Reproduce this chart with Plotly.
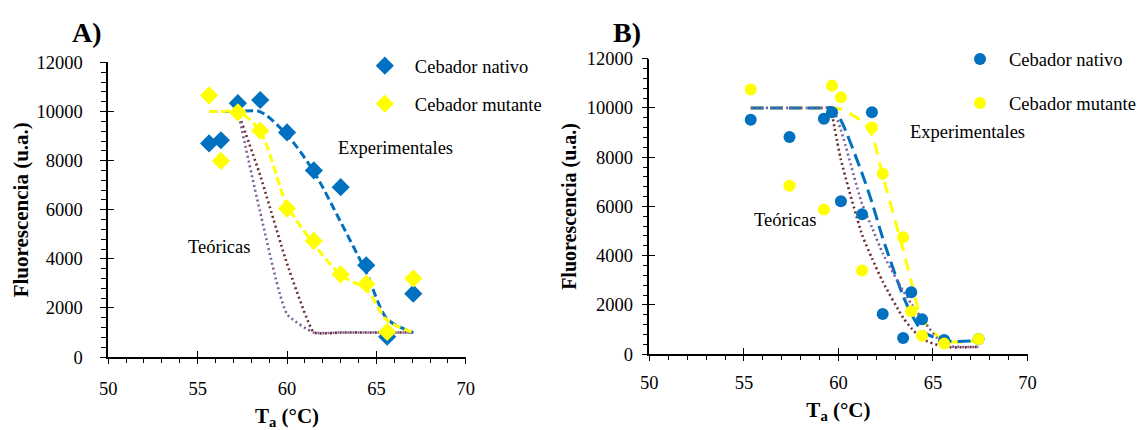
import plotly.graph_objects as go

# ---------------- Panel A data ----------------
a_x = [55.64, 56.3, 57.25, 58.5, 60.0, 61.5, 63.0, 64.43, 65.6, 67.06]
a_nativo = [8700, 8830, 10340, 10470, 9150, 7600, 6920, 3740, 830, 2580]
a_mutante = [10660, 7990, 9970, 9220, 6050, 4730, 3370, 2980, 1020, 3200]
a_fit_x = [55.64, 56.3, 57.25, 58.5, 60.0, 61.5, 63.0, 64.43, 65.6, 67.06]
a_fit_nativo = [10000, 10000, 10000, 9990, 9050, 7550, 5500, 3450, 1550, 1000]
a_fit_mutante = [10000, 10000, 10000, 9200, 6200, 4600, 3350, 2750, 1500, 1000]
a_teo_x = [57.25, 58.5, 60.0, 61.5, 63.0, 64.43, 65.6, 67.06]
a_teo_1 = [10000, 7400, 3800, 1000, 1000, 1000, 1000, 1000]   # brown
a_teo_2 = [10000, 5900, 1750, 1000, 1000, 1000, 1000, 1000]   # purple

# ---------------- Panel B data ----------------
b_x = [55.36, 57.41, 59.23, 59.66, 60.13, 61.25, 61.77, 62.34, 63.42, 63.85, 64.42, 65.59, 67.41]
b_nativo = [9520, 8820, 9560, 9820, 6210, 5680, 9820, 1630, 660, 2520, 1420, 580, 620]
b_mutante = [10750, 6840, 5870, 10900, 10430, 3400, 9200, 7330, 4750, 1740, 750, 430, 620]
b_fit_nativo = [10000, 10000, 10000, 10000, 9500, 7340, 6170, 4720, 2360, 1650, 950, 550, 550]
b_fit_mutante = [10000, 10000, 10000, 10000, 9950, 9450, 8900, 7250, 4250, 2950, 1450, 550, 550]
b_teo1_x = [59.66, 60.13, 61.25, 61.77, 62.34, 63.42, 63.85, 64.42, 65.59, 67.41]
b_teo_1 = [9750, 7900, 4850, 3900, 2950, 1480, 1060, 620, 300, 300]   # brown
b_teo2_x = [55.36, 57.41, 59.23, 59.66, 60.13, 61.25, 61.77, 62.34, 63.42, 63.85, 64.42, 65.59, 67.41]
b_teo_2 = [10000, 10000, 10000, 10000, 9100, 6100, 5150, 4100, 2570, 2050, 1450, 380, 300]  # purple

x_ticks = [50, 55, 60, 65, 70]
y_ticks = [0, 2000, 4000, 6000, 8000, 10000, 12000]

BLUE = "#0070C0"
YELLOW = "#FFFF00"
BROWN = "#6E2D2D"
PURPLE = "#7D60A0"
FONT = "Liberation Serif, Times New Roman, Tinos, DejaVu Serif, serif"
FS = 18.5

fig = go.Figure()

def line(x, y, color, dash, width, xa, ya, smoothing=0.9):
    fig.add_trace(go.Scatter(x=x, y=y, mode="lines", showlegend=False, hoverinfo="skip",
                             line=dict(color=color, dash=dash, width=width, shape="spline", smoothing=smoothing),
                             xaxis=xa, yaxis=ya))

# Panel A lines
line(a_teo_x, a_teo_1, BROWN, "2px,3px", 2.6, "x", "y", 0.35)
line(a_teo_x, a_teo_2, PURPLE, "2px,3px", 2.6, "x", "y", 0.5)
line(a_fit_x, a_fit_nativo, BLUE, "8px,4px", 3, "x", "y", 0.8)
line(a_fit_x, a_fit_mutante, YELLOW, "8px,4px", 3, "x", "y", 0.8)

# Panel A markers
fig.add_trace(go.Scatter(x=a_x, y=a_nativo, mode="markers", name="Cebador nativo",
                         marker=dict(symbol="diamond", size=14, color=BLUE),
                         xaxis="x", yaxis="y", legend="legend", legendgroup="an"))
fig.add_trace(go.Scatter(x=a_x, y=a_mutante, mode="markers", name="Cebador mutante",
                         marker=dict(symbol="diamond", size=14, color=YELLOW),
                         xaxis="x", yaxis="y", legend="legend", legendgroup="am"))

# Panel B lines
line(b_x, b_fit_mutante, YELLOW, "12px,8px", 3, "x2", "y2", 0.7)
line(b_x, b_fit_nativo, BLUE, "13px,6px", 3, "x2", "y2", 0.7)
line(b_teo1_x, b_teo_1, BROWN, "2px,3px", 2.6, "x2", "y2", 0.6)
line(b_teo2_x, b_teo_2, PURPLE, "2px,3px", 2.6, "x2", "y2", 0.6)

# Panel B markers
fig.add_trace(go.Scatter(x=b_x, y=b_nativo, mode="markers", name="Cebador nativo",
                         marker=dict(symbol="circle", size=12, color=BLUE),
                         xaxis="x2", yaxis="y2", legend="legend2", legendgroup="bn"))
fig.add_trace(go.Scatter(x=b_x, y=b_mutante, mode="markers", name="Cebador mutante",
                         marker=dict(symbol="circle", size=12, color=YELLOW),
                         xaxis="x2", yaxis="y2", legend="legend2", legendgroup="bm"))

# empty traces to activate overlay axes (inner half of crossing ticks)
fig.add_trace(go.Scatter(x=[None], y=[None], xaxis="x3", yaxis="y3", showlegend=False, hoverinfo="skip"))
fig.add_trace(go.Scatter(x=[None], y=[None], xaxis="x4", yaxis="y4", showlegend=False, hoverinfo="skip"))

dom_ax = [101 / 1141, 465 / 1141]
dom_ay = [(430 - 364) / 430, (430 - 55) / 430]
dom_bx = [651.8 / 1141, 1036.7 / 1141]
dom_by = [(430 - 361) / 430, (430 - 51) / 430]

tickfont = dict(family=FONT, size=FS, color="black")

def xax(domain, anchor, title_text, standoff, lstand):
    return dict(domain=domain, anchor=anchor, range=[50, 70], tickvals=x_ticks, tickformat="d",
                ticks="outside", ticklen=5, tickwidth=1.3, tickcolor="black",
                showline=True, linecolor="black", linewidth=1.5, showgrid=False, zeroline=False,
                minor=dict(dtick=1, ticks="outside", ticklen=4, tickwidth=1.2, tickcolor="black", showgrid=False),
                tickfont=tickfont, ticklabelstandoff=lstand,
                title=dict(text=title_text, standoff=standoff,
                           font=dict(family=FONT, size=21, color="black", weight="bold")))

def yax(domain, anchor, title_size, standoff, lstand):
    return dict(domain=domain, anchor=anchor, range=[0, 12000], tickvals=y_ticks, tickformat="d",
                ticks="outside", ticklen=6, tickwidth=1.3, tickcolor="black",
                showline=True, linecolor="black", linewidth=1.5, showgrid=False, zeroline=False,
                minor=dict(dtick=400, ticks="outside", ticklen=5, tickwidth=1.2, tickcolor="black", showgrid=False),
                tickfont=tickfont, ticklabelstandoff=lstand,
                title=dict(text="Fluorescencia (u.a.)", standoff=standoff,
                           font=dict(family=FONT, size=title_size, color="black", weight="bold")))

def overlay_x(over, anchor):
    return dict(overlaying=over, anchor=anchor, range=[50, 70], tickvals=x_ticks, ticks="inside",
                ticklen=6, tickwidth=1.3, tickcolor="black", showticklabels=False, showline=False,
                showgrid=False, zeroline=False)

def overlay_y(over, anchor):
    return dict(overlaying=over, anchor=anchor, range=[0, 12000], tickvals=y_ticks, ticks="inside",
                ticklen=6, tickwidth=1.3, tickcolor="black", showticklabels=False, showline=False,
                showgrid=False, zeroline=False)

ann_font = dict(family=FONT, size=FS, color="black")

fig.update_layout(
    width=1141, height=430,
    margin=dict(l=0, r=0, t=0, b=0),
    paper_bgcolor="white", plot_bgcolor="white",
    font=dict(family=FONT, color="black"),
    xaxis=xax(dom_ax, "y", "T<sub>a</sub> (°C)", 10, 9),
    yaxis=yax(dom_ay, "x", 21, 2, 14),
    xaxis2=xax(dom_bx, "y2", "T<sub>a</sub> (°C)", 10, 6),
    yaxis2=yax(dom_by, "x2", 20, 5, 5),
    xaxis3=overlay_x("x", "y3"),
    yaxis3=overlay_y("y", "x3"),
    xaxis4=overlay_x("x2", "y4"),
    yaxis4=overlay_y("y2", "x4"),
    legend=dict(x=352 / 1141, y=(430 - 39) / 430, xanchor="left", yanchor="top",
                bgcolor="rgba(0,0,0,0)", font=dict(family=FONT, size=FS, color="black"),
                itemwidth=50, tracegroupgap=11, traceorder="grouped"),
    legend2=dict(x=959 / 1141, y=(430 - 32) / 430, xanchor="left", yanchor="top",
                 bgcolor="rgba(0,0,0,0)", font=dict(family=FONT, size=FS, color="black"),
                 itemwidth=48, tracegroupgap=17, traceorder="grouped"),
    annotations=[
        dict(text="<b>A)</b>", x=62 / 1141, y=(430 - 24) / 430, xref="paper", yref="paper",
             xanchor="left", yanchor="middle", showarrow=False,
             font=dict(family=FONT, size=28, color="black")),
        dict(text="<b>B)</b>", x=613 / 1141, y=(430 - 24) / 430, xref="paper", yref="paper",
             xanchor="left", yanchor="middle", showarrow=False,
             font=dict(family=FONT, size=28, color="black")),
        dict(text="Experimentales", x=333 / 1141, y=(430 - 145) / 430, xref="paper", yref="paper",
             xanchor="left", yanchor="middle", showarrow=False, font=ann_font),
        dict(text="Teóricas", x=180 / 1141, y=(430 - 249) / 430, xref="paper", yref="paper",
             xanchor="left", yanchor="middle", showarrow=False, font=ann_font),
        dict(text="Experimentales", x=915 / 1141, y=(430 - 128) / 430, xref="paper", yref="paper",
             xanchor="left", yanchor="middle", showarrow=False, font=ann_font),
        dict(text="Teóricas", x=756 / 1141, y=(430 - 220) / 430, xref="paper", yref="paper",
             xanchor="left", yanchor="middle", showarrow=False, font=ann_font),
    ],
)

fig.write_html("out.html")
